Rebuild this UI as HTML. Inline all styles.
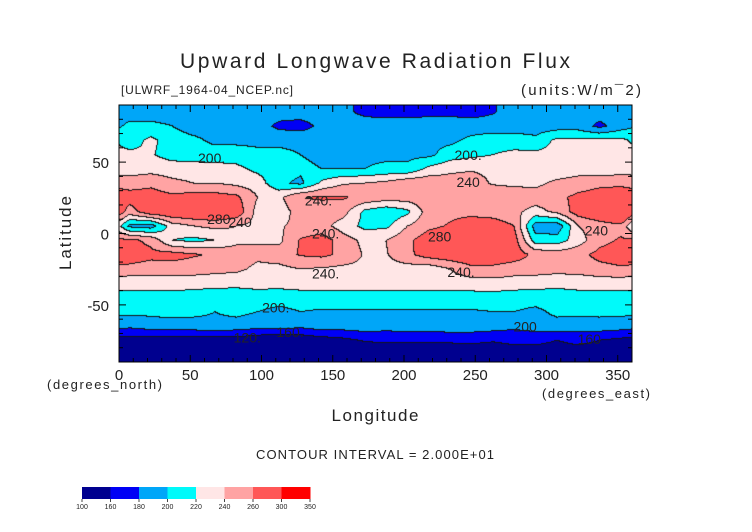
<!DOCTYPE html>
<html><head><meta charset="utf-8"><style>
html,body{margin:0;padding:0;background:#fff;}
#wrap{position:relative;width:752px;height:532px;overflow:hidden;font-family:"Liberation Sans",sans-serif;}
svg text{font-family:"Liberation Sans",sans-serif;fill:#222;}
#map{position:absolute;left:119px;top:105px;}
</style></head><body>
<div id="wrap">
<canvas id="map" width="513" height="257"></canvas>
<svg id="svg" width="752" height="532" style="position:absolute;left:0;top:0">
<text x="375" y="68" text-anchor="middle" font-size="21" textLength="390" lengthAdjust="spacing">Upward Longwave Radiation Flux</text>
<text x="121" y="94" font-size="12" textLength="172">[ULWRF_1964-04_NCEP.nc]</text>
<text x="641" y="95" text-anchor="end" font-size="15" textLength="120">(units:W/m¯2)</text>
<text transform="translate(71,233) rotate(-90)" text-anchor="middle" font-size="17" textLength="74">Latitude</text>
<text x="47" y="389" font-size="13" textLength="115">(degrees_north)</text>
<text x="650" y="398" text-anchor="end" font-size="13" textLength="108">(degrees_east)</text>
<text x="375" y="421" text-anchor="middle" font-size="17" textLength="87">Longitude</text>
<text x="375" y="459" text-anchor="middle" font-size="13" textLength="238">CONTOUR INTERVAL = 2.000E+01</text>
<g id="axes"></g>
<g id="cbar"></g>
<g id="clabels" font-size="14"></g>
</svg>
</div>
<script>
// ---- data ----
const lats=[85,75,65,55,45,35,25,15,5,-5,-15,-25,-35,-45,-55,-65,-75,-85];
const lons=[7.5,22.5,37.5,52.5,67.5,82.5,97.5,112.5,127.5,142.5,157.5,172.5,187.5,202.5,217.5,232.5,247.5,262.5,277.5,292.5,307.5,322.5,337.5,352.5];
const r85=[190,190,190,190,190,190,190,190,190,190,185,175,172,172,175,175,172,178,190,190,190,190,190,190];
const r75=[205,205,200,190,190,190,190,175,172,185,190,190,190,190,190,190,190,190,190,190,190,190,175,190];
const r65=[210,225,210,205,195,195,195,195,195,190,190,195,195,195,195,195,205,210,210,205,225,225,225,225];
const r55=[225,222,212,210,210,210,205,205,200,195,195,195,195,195,195,210,215,220,225,225,228,228,228,228];
const r45=[230,232,230,230,228,225,215,210,205,200,200,200,205,205,225,235,238,235,230,225,225,230,225,230];
const r35=[250,255,245,240,240,235,230,205,195,225,238,240,245,255,255,250,250,238,235,235,245,250,255,255];
const r25=[270,270,265,270,270,265,240,235,260,262,262,255,250,250,255,255,250,255,255,250,255,265,270,275];
const r15=[250,275,280,282,285,275,232,228,250,252,248,215,205,215,250,255,255,250,245,232,245,270,280,295];
const r5=[195,190,230,240,245,240,235,238,245,248,230,215,215,240,255,262,270,272,260,190,185,240,250,255];
const rm5=[265,255,220,215,220,235,238,235,262,270,250,235,240,255,272,278,280,275,270,210,210,230,255,262];
const rm15=[270,265,268,262,258,250,245,250,262,265,255,238,238,255,270,275,278,275,270,255,250,255,265,268];
const rm25=[255,252,250,250,248,245,235,235,240,238,235,235,232,232,228,240,255,255,250,250,248,250,255,258];
const rm35=[225,228,230,228,225,225,228,228,230,232,230,230,228,228,228,230,230,232,230,228,225,225,228,228];
const rm45=[215,212,212,210,212,210,210,208,210,210,210,212,212,212,212,212,212,212,210,210,212,215,212,212];
const rm55=[205,205,208,205,200,205,200,195,200,198,198,198,198,198,198,198,198,200,200,195,205,205,205,205];
const rm65=[185,190,190,192,195,192,188,190,185,192,190,192,188,190,190,192,192,190,185,190,192,190,192,190];
const rm75=[150,150,150,150,150,150,145,140,145,150,155,162,165,165,165,165,165,162,165,165,160,165,160,155];
const rm85=[140,140,140,140,140,140,140,140,140,140,140,140,140,140,140,140,145,145,150,150,150,150,150,150];
const grid=[r85,r75,r65,r55,r45,r35,r25,r15,r5,rm5,rm15,rm25,rm35,rm45,rm55,rm65,rm75,rm85];
const levels=[100,160,180,200,220,240,260,300,350];
const levelLabels=["100","160","180","200","220","240","260","300","350"];
const colors=["#00008f","#0000f5","#00a6f8","#00fafa","#ffe6e6","#ffa3a3","#ff5757","#ff0000"];
const xTicks=[0,50,100,150,200,250,300,350];
const yTicks=[50,0,-50];
const contourLabels=[["200.",65,53],["200.",245,55],["240",245,36],["280",70,10],["240",85,8],["240.",140,23],["240.",145,0],["280",225,-2],["240",335,2],["240.",145,-28],["240.",240,-27],["200.",110,-52],["200",285,-65],["160.",120,-69],["120.",90,-73],["160",330,-74]];

// ---- axis functions ----
const X0=119,X1=632,Y0=105,Y1=362;
const xs=lon=>X0+(lon/360)*(X1-X0);
const ys=lat=>Y0+((90-lat)/180)*(Y1-Y0);
function cls(v){let c=0;for(let i=1;i<levels.length-1;i++){if(v>=levels[i])c=i;}return c;}
function val(lon,lat){
  let fi=(85-lat)/10; fi=Math.max(0,Math.min(lats.length-1,fi));
  let fj=(lon-7.5)/15; const n=lons.length;
  const i0=Math.floor(fi),i1=Math.min(lats.length-1,i0+1),ti=fi-i0;
  let j0=Math.floor(fj),tj=fj-j0;j0=((j0%n)+n)%n;const j1=(j0+1)%n;
  const a=grid[i0][j0]*(1-tj)+grid[i0][j1]*tj;
  const b=grid[i1][j0]*(1-tj)+grid[i1][j1]*tj;
  return a*(1-ti)+b*ti;
}
// ---- draw map ----
const cv=document.getElementById('map');const ctx=cv.getContext('2d');
const W=cv.width,H=cv.height;const img=ctx.createImageData(W,H);
const cgrid=new Array(W*H);
const rgb=colors.map(c=>[parseInt(c.substr(1,2),16),parseInt(c.substr(3,2),16),parseInt(c.substr(5,2),16)]);
for(let y=0;y<H;y++)for(let x=0;x<W;x++){
  const lon=(x+0.5)/W*360,lat=90-(y+0.5)/H*180;
  cgrid[y*W+x]=cls(val(lon,lat));
}
for(let y=0;y<H;y++)for(let x=0;x<W;x++){
  const c=cgrid[y*W+x];let col=rgb[c];
  if((x<W-1&&cgrid[y*W+x+1]!==c)||(y<H-1&&cgrid[(y+1)*W+x]!==c))col=[20,20,20];
  const k=(y*W+x)*4;img.data[k]=col[0];img.data[k+1]=col[1];img.data[k+2]=col[2];img.data[k+3]=255;
}
ctx.putImageData(img,0,0);
// ---- axes ----
const NS='http://www.w3.org/2000/svg';
const ax=document.getElementById('axes');
function mk(t,attrs,p){const e=document.createElementNS(NS,t);for(const k in attrs)e.setAttribute(k,attrs[k]);(p||ax).appendChild(e);return e;}
const fr=mk('rect',{x:X0,y:Y0,width:X1-X0,height:Y1-Y0,fill:'none',stroke:'#000','stroke-width':1});


for(let lon=0;lon<=360;lon+=10){const big=lon%50===0;const x=xs(lon);
  const t1=mk('line',{x1:x,x2:x,y1:Y1,y2:Y1-(big?7:4),stroke:'#000'});
  
  
  const t2=mk('line',{x1:x,x2:x,y1:Y0,y2:Y0+(big?7:4),stroke:'#000'});
  
  }
for(let lat=-90;lat<=90;lat+=10){const big=lat%50===0;const y=ys(lat);
  const t1=mk('line',{x1:X0,x2:X0+(big?7:4),y1:y,y2:y,stroke:'#000'});
  
  
  const t2=mk('line',{x1:X1,x2:X1-(big?7:4),y1:y,y2:y,stroke:'#000'});
  
  }
xTicks.forEach(v=>{const t=mk('text',{x:xs(v),y:Y1+18,'text-anchor':'middle','font-size':15});t.textContent=v;
  
  });
yTicks.forEach(v=>{const t=mk('text',{x:X0-10,y:ys(v)+6,'text-anchor':'end','font-size':15});t.textContent=v;
  
  });
const cl=document.getElementById('clabels');
contourLabels.forEach(d=>{const t=mk('text',{x:xs(d[1]),y:ys(d[2])+5,'text-anchor':'middle'},cl);t.textContent=d[0];
  
  });
// ---- colorbar ----
const cb=document.getElementById('cbar');const CBX=82,CBW=228,CBY=487,CBH=12;const bw=CBW/colors.length;
colors.forEach((c,i)=>{const r=mk('rect',{x:CBX+i*bw,y:CBY,width:bw+0.5,height:CBH,fill:c},cb);
  
  });
levelLabels.forEach((l,i)=>{const x=CBX+i*bw;
  const tk=mk('line',{x1:x,x2:x,y1:CBY+CBH,y2:CBY+CBH+3,stroke:'#444'},cb);
  
  
  const t=mk('text',{x:x,y:CBY+CBH+10,'text-anchor':'middle','font-size':7},cb);t.textContent=l;
  
  });
</script>
</body></html>
